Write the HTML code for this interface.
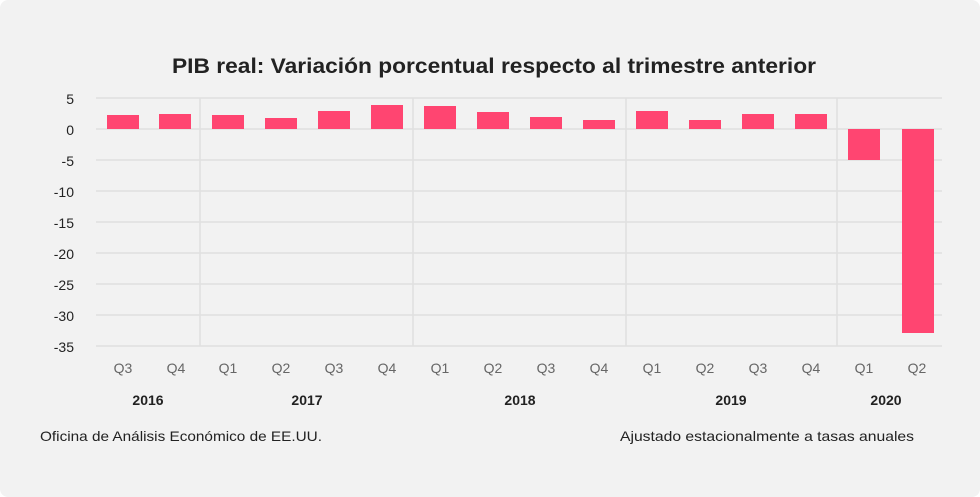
<!DOCTYPE html>
<html><head><meta charset="utf-8"><style>
html,body{margin:0;padding:0;background:#fff;}
.wrap{width:980px;height:497px;background:#f2f2f2;border-radius:8px;position:relative;overflow:hidden;font-family:"Liberation Sans",sans-serif;}
</style></head><body><div class="wrap">
<svg width="980" height="497" xmlns="http://www.w3.org/2000/svg" font-family="Liberation Sans, sans-serif">
<text x="172" y="73" textLength="644" lengthAdjust="spacingAndGlyphs" font-size="21" font-weight="bold" fill="#222">PIB real: Variación porcentual respecto al trimestre anterior</text>
<g stroke="#e0e0e0" stroke-width="1.5">
<line x1="96" x2="942" y1="98" y2="98"/><line x1="96" x2="942" y1="129" y2="129"/>
<line x1="96" x2="942" y1="160" y2="160"/><line x1="96" x2="942" y1="191" y2="191"/>
<line x1="96" x2="942" y1="222" y2="222"/><line x1="96" x2="942" y1="253" y2="253"/>
<line x1="96" x2="942" y1="284" y2="284"/><line x1="96" x2="942" y1="315" y2="315"/>
<line x1="96" x2="942" y1="346" y2="346"/>
<line x1="200" x2="200" y1="98" y2="346"/><line x1="413" x2="413" y1="98" y2="346"/>
<line x1="626" x2="626" y1="98" y2="346"/><line x1="837" x2="837" y1="98" y2="346"/>
</g>
<g font-size="14" fill="#222" text-anchor="end">
<text x="74" y="104">5</text><text x="74" y="135">0</text><text x="74" y="166">-5</text>
<text x="74" y="197">-10</text><text x="74" y="228">-15</text><text x="74" y="259">-20</text>
<text x="74" y="290">-25</text><text x="74" y="321">-30</text><text x="74" y="352">-35</text>
</g>
<g fill="#ff4571">
<rect x="107" y="115" width="32" height="14"/><rect x="159" y="114" width="32" height="15"/>
<rect x="212" y="115" width="32" height="14"/><rect x="265" y="118" width="32" height="11"/>
<rect x="318" y="111" width="32" height="18"/><rect x="371" y="105" width="32" height="24"/>
<rect x="424" y="106" width="32" height="23"/><rect x="477" y="112" width="32" height="17"/>
<rect x="530" y="117" width="32" height="12"/><rect x="583" y="120" width="32" height="9"/>
<rect x="636" y="111" width="32" height="18"/><rect x="689" y="120" width="32" height="9"/>
<rect x="742" y="114" width="32" height="15"/><rect x="795" y="114" width="32" height="15"/>
<rect x="848" y="129" width="32" height="31"/><rect x="902" y="129" width="32" height="204"/>
</g>
<g font-size="14" fill="#666" text-anchor="middle">
<text x="123" y="373">Q3</text><text x="176" y="373">Q4</text><text x="228" y="373">Q1</text>
<text x="281" y="373">Q2</text><text x="334" y="373">Q3</text><text x="387" y="373">Q4</text>
<text x="440" y="373">Q1</text><text x="493" y="373">Q2</text><text x="546" y="373">Q3</text>
<text x="599" y="373">Q4</text><text x="652" y="373">Q1</text><text x="705" y="373">Q2</text>
<text x="758" y="373">Q3</text><text x="811" y="373">Q4</text><text x="864" y="373">Q1</text>
<text x="917" y="373">Q2</text>
</g>
<g font-size="14" font-weight="bold" fill="#222" text-anchor="middle">
<text x="148" y="405">2016</text><text x="307" y="405">2017</text><text x="520" y="405">2018</text>
<text x="731" y="405">2019</text><text x="886" y="405">2020</text>
</g>
<text x="40" y="441" font-size="14" fill="#222" textLength="282" lengthAdjust="spacingAndGlyphs">Oficina de Análisis Económico de EE.UU.</text>
<text x="620" y="441" font-size="14" fill="#222" textLength="294" lengthAdjust="spacingAndGlyphs">Ajustado estacionalmente a tasas anuales</text>
</svg>
</div></body></html>
